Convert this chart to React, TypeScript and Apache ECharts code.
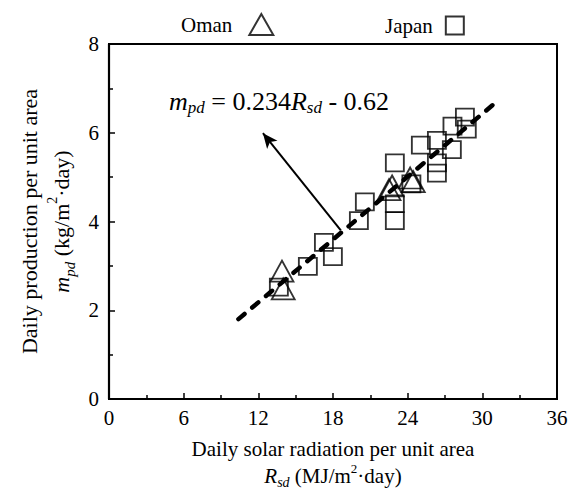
import React, { useEffect, useRef } from "react";
import * as echarts from "echarts";

const FONT = "Liberation Serif";

// Oman (triangles) [Rsd, mpd]
const omanData: [number, number][] = [
  [13.9, 2.88],
  [14.0, 2.48],
  [22.5, 4.72],
  [22.75, 4.8],
  [24.2, 4.98],
  [24.45, 4.9],
];

// Japan (squares) [Rsd, mpd]
const japanData: [number, number][] = [
  [28.6, 6.35],
  [27.6, 6.15],
  [28.75, 6.08],
  [25.06, 5.72],
  [26.35, 5.83],
  [27.55, 5.62],
  [26.35, 5.32],
  [26.35, 5.09],
  [22.97, 5.32],
  [22.97, 4.4],
  [22.97, 4.02],
  [20.56, 4.44],
  [20.08, 4.02],
  [17.27, 3.53],
  [17.99, 3.21],
  [15.98, 2.99],
  [13.65, 2.52],
  [24.3, 4.85],
];

// fitted line end points
const fitLine: [number, number][] = [
  [10.4, 1.8],
  [30.9, 6.64],
];

// arrow from the line to the equation
const arrowStart: [number, number] = [18.63, 3.8];
const arrowEnd: [number, number] = [12.37, 5.99];

const xTicks = { min: 0, max: 36, interval: 6 };
const yTicks = { min: 0, max: 8, interval: 2 };

const mkRich = (fs: number, lh: number) => ({
  i: { fontStyle: "italic", fontFamily: FONT, fontSize: fs, lineHeight: lh, color: "#000" },
  sub: { fontStyle: "italic", fontFamily: FONT, fontSize: Math.round(fs * 0.68), lineHeight: 12, verticalAlign: "bottom", color: "#000" },
  sup: { fontFamily: FONT, fontSize: Math.round(fs * 0.62), lineHeight: 16, verticalAlign: "top", color: "#000" },
  n: { fontFamily: FONT, fontSize: fs, lineHeight: lh, color: "#000" },
});

export default function App() {
  const ref = useRef<HTMLDivElement>(null);
  useEffect(() => {
    if (!ref.current) return;
    const chart = echarts.init(ref.current, undefined, { renderer: "svg" });
    const hollow = { color: "rgba(0,0,0,0)", borderColor: "#000", borderWidth: 1.8 };
    chart.setOption({
      animation: false,
      backgroundColor: "#fff",
      grid: {
        left: 109,
        right: 17,
        top: 44,
        bottom: 91,
        show: true,
        borderColor: "#000",
        borderWidth: 2,
        backgroundColor: "rgba(0,0,0,0)",
      },
      legend: [
        {
          data: ["Oman"],
          left: 176,
          top: 8,
          align: "right",
          itemWidth: 24,
          itemHeight: 21,
          formatter: "{t|{name}}",
          textStyle: {
            rich: { t: { fontFamily: FONT, fontSize: 21, color: "#000", padding: [0, 12, 0, 0] } },
          },
        },
        {
          data: ["Japan"],
          left: 380,
          top: 10,
          align: "right",
          itemWidth: 18,
          itemHeight: 18,
          formatter: "{t|{name}}",
          textStyle: {
            rich: { t: { fontFamily: FONT, fontSize: 21, color: "#000", padding: [0, 8, 0, 0] } },
          },
        },
      ],
      xAxis: {
        type: "value",
        ...xTicks,
        axisLine: { lineStyle: { color: "#000", width: 2.2 } },
        axisTick: { inside: true, length: 6, lineStyle: { color: "#000", width: 1.5 } },
        minorTick: { show: true, splitNumber: 2, length: 4, lineStyle: { color: "#000", width: 1.5 } },
        splitLine: { show: false },
        axisLabel: { margin: 8, fontFamily: FONT, fontSize: 21, color: "#000" },
        name: "Daily solar radiation per unit area\n{i|R}{sub|sd}{n| (MJ/m}{sup|2}{n|·day)}",
        nameLocation: "middle",
        nameGap: 36,
        nameTextStyle: { fontFamily: FONT, fontSize: 21, lineHeight: 27, color: "#000", rich: mkRich(21, 27) },
      },
      yAxis: {
        type: "value",
        ...yTicks,
        axisLine: { lineStyle: { color: "#000", width: 2.2 } },
        axisTick: { inside: true, length: 6, lineStyle: { color: "#000", width: 1.5 } },
        minorTick: { show: true, splitNumber: 2, length: 4, lineStyle: { color: "#000", width: 1.5 } },
        splitLine: { show: false },
        axisLabel: { margin: 10, fontFamily: FONT, fontSize: 21, color: "#000" },
        name: "Daily production per unit area\n{i|m}{sub|pd}{n| (kg/m}{sup|2}{n|·day)}",
        nameLocation: "middle",
        nameGap: 24,
        nameTextStyle: { fontFamily: FONT, fontSize: 22, lineHeight: 32, color: "#000", rich: mkRich(22, 32) },
      },
      graphic: [
        {
          type: "text",
          left: 169,
          top: 88,
          style: {
            text: "{i|m}{sub|pd}{n| = 0.234}{i|R}{sub|sd}{n| - 0.62}",
            rich: {
              i: { fontStyle: "italic", fontFamily: FONT, fontSize: 26, lineHeight: 30, color: "#000" },
              sub: { fontStyle: "italic", fontFamily: FONT, fontSize: 17, lineHeight: 12, verticalAlign: "bottom", color: "#000" },
              n: { fontFamily: FONT, fontSize: 26, lineHeight: 30, color: "#000" },
            },
          },
        },
      ],
      series: [
        {
          type: "line",
          data: fitLine,
          symbol: "none",
          silent: true,
          lineStyle: { color: "#000", width: 4.5, type: [8, 10], cap: "round" },
          z: 1,
          markLine: {
            silent: true,
            symbol: ["none", "arrow"],
            symbolSize: [10, 15],
            label: { show: false },
            lineStyle: { color: "#000", width: 2, type: "solid" },
            data: [[{ coord: arrowStart }, { coord: arrowEnd }]],
          },
        },
        {
          name: "Japan",
          type: "scatter",
          data: japanData,
          symbol: "rect",
          symbolSize: [18, 17],
          itemStyle: hollow,
          z: 3,
        },
        {
          name: "Oman",
          type: "scatter",
          data: omanData,
          symbol: "triangle",
          symbolSize: [23, 21],
          itemStyle: hollow,
          z: 4,
        },
      ],
    });
    return () => chart.dispose();
  }, []);
  return <div ref={ref} style={{ width: 574, height: 494, position: "absolute", left: 0, top: 0 }} />;
}
